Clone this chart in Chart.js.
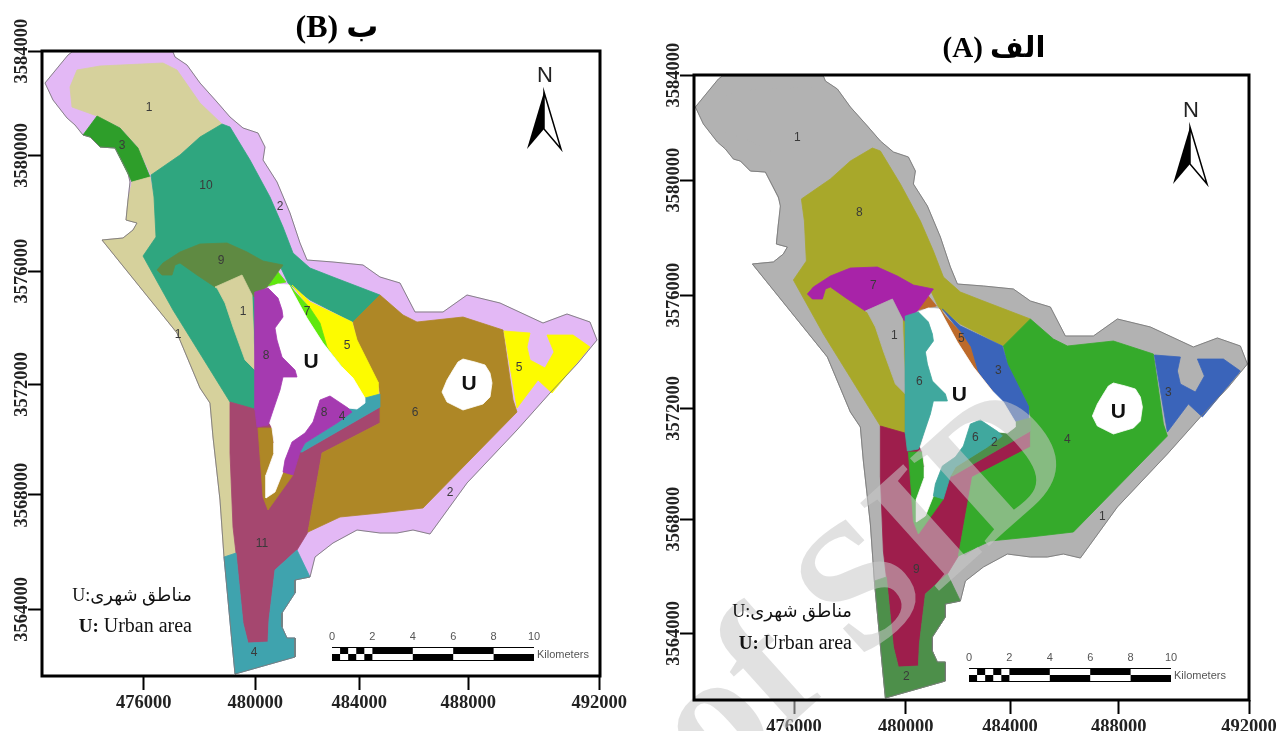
<!DOCTYPE html>
<html>
<head>
<meta charset="utf-8">
<title>Land units map</title>
<script src="https://cdn.jsdelivr.net/npm/chart.js@4/dist/chart.umd.min.js"></script>
<style>
  html, body { margin: 0; padding: 0; background: #fff; }
  canvas { position: absolute; top: 0; }
</style>
</head>
<body>
<canvas id="panelB" width="640" height="731" style="left:0"></canvas>
<canvas id="panelA" width="636" height="731" style="left:650px"></canvas>
<script>
// map polygons, [easting, northing] in metres
const outline = [[472420,3582852],[473248,3583860],[473392,3583968],[477028,3583968],[477100,3583788],[477532,3583500],[478000,3582852],[478612,3582168],[479080,3581628],[479548,3581232],[480088,3581052],[480340,3580548],[480268,3580080],[480772,3579288],[481240,3578172],[481600,3577092],[481852,3576480],[482788,3576408],[483868,3576300],[484480,3575868],[485200,3575652],[485740,3574608],[486748,3574608],[487612,3575220],[488800,3574932],[490348,3574212],[491212,3574536],[492040,3574248],[492292,3573600],[491608,3572772],[490600,3571692],[489412,3570360],[487612,3568452],[486280,3566616],[485668,3566760],[485092,3566652],[484480,3566652],[483652,3566760],[482788,3566292],[482140,3565788],[481960,3565068],[481420,3564960],[481420,3564492],[480952,3563772],[480952,3563268],[481132,3562872],[481420,3562872],[481420,3562188],[479260,3561576],[479152,3562692],[478864,3565788],[478720,3567840],[478468,3570108],[478360,3571332],[478000,3571872],[477172,3573852],[474472,3577200],[475228,3577272],[475588,3577560],[475732,3577812],[475336,3577920],[475408,3578640],[475480,3579288],[475408,3579612],[474940,3580512],[474400,3580548],[474040,3580908],[473788,3580980],[473500,3581340],[473212,3581592],[472708,3582240]];
const northBlock = [[473572,3583320],[474400,3583464],[476668,3583572],[477172,3583320],[478000,3582132],[478792,3581376],[478000,3580908],[477280,3580260],[476236,3579540],[475768,3580548],[475120,3581268],[474292,3581664],[473392,3581988],[473320,3582708]];
const northBand = [[474292,3581664],[475120,3581232],[475768,3580512],[476200,3579468],[475552,3579288],[475300,3579792],[474940,3580512],[474400,3580548],[474040,3580908],[473788,3580980]];
const westStrip = [[475552,3579288],[476200,3579468],[476344,3578748],[476416,3577308],[475948,3576624],[477028,3574680],[478144,3572880],[479080,3571440],[479080,3569532],[479188,3566868],[479296,3565932],[478864,3565788],[478720,3567840],[478468,3570108],[478360,3571332],[478000,3571872],[477172,3573852],[474472,3577200],[475228,3577272],[475588,3577560],[475732,3577812],[475336,3577920],[475408,3578640]];
const upland = [[478792,3581376],[479080,3581268],[479800,3580080],[480520,3578748],[480988,3577668],[481348,3576732],[481960,3576192],[482788,3575868],[484480,3575220],[483508,3574248],[481960,3575040],[481168,3575652],[480880,3576264],[480016,3575040],[480016,3571080],[479080,3571368],[478144,3572880],[477028,3574680],[475948,3576624],[476416,3577308],[476344,3578748],[476236,3579540],[477280,3580260],[478000,3580908]];
const southFan = [[479080,3571368],[480088,3571080],[481240,3569640],[481672,3569568],[484480,3571188],[484480,3570612],[482392,3569532],[481888,3566688],[481492,3566040],[480700,3565320],[480484,3563520],[480448,3562728],[479728,3562692],[479548,3563412],[479296,3565932],[479188,3566868],[479080,3569532]];
const southTail = [[478864,3565788],[479296,3565932],[479548,3563412],[479728,3562692],[480448,3562728],[480484,3563520],[480700,3565320],[481492,3566040],[481960,3565068],[481420,3564960],[481420,3564492],[480952,3563772],[480952,3563268],[481132,3562872],[481420,3562872],[481420,3562188],[479260,3561576],[479152,3562692]];
const plain = [[483508,3574248],[484480,3575220],[485308,3574500],[485812,3574248],[487468,3574428],[488908,3573960],[489268,3571440],[489412,3571008],[486028,3567552],[484480,3567372],[483040,3567228],[481888,3566688],[482392,3569532],[484480,3570612],[484480,3571692],[484408,3572088],[483652,3573600]];
const eastWedge = [[488944,3573924],[489880,3573852],[489772,3573348],[489880,3572880],[490420,3572592],[490744,3573168],[490492,3573780],[491428,3573780],[492040,3573348],[490672,3571692],[490168,3572160],[489412,3571152]];
const midWedge = [[481312,3575580],[481960,3574968],[483472,3574248],[483652,3573600],[484408,3572088],[484408,3571620],[483940,3571512],[483472,3572268],[482968,3572772],[482572,3573348],[482320,3574212],[481960,3574752]];
const tealStrip = [[484480,3571656],[483940,3571512],[483940,3571332],[483652,3571116],[483220,3571152],[482932,3570612],[481780,3569892],[481600,3569568],[481672,3569568],[484480,3571188]];
const thinStrip = [[481204,3575616],[481420,3575328],[481960,3574752],[482320,3574212],[482572,3573348],[482968,3572700],[483112,3572628],[482428,3573492],[481852,3574392]];
const topTriangle = [[480412,3575544],[480808,3576048],[481096,3575688]];
const innerStrip = [[480088,3570432],[480592,3570432],[480664,3569532],[480376,3568740],[480376,3567912],[480700,3568128],[480988,3568848],[481348,3568740],[480448,3567480],[480268,3567948]];
const ridge = [[476452,3576120],[476668,3576372],[477280,3576768],[478000,3577056],[478972,3577092],[479692,3576768],[480268,3576444],[480988,3576300],[480412,3575508],[479944,3575148],[479728,3575508],[479512,3575940],[478540,3575508],[477892,3575940],[477280,3576372],[477100,3576300],[476992,3575940],[476632,3575940]];
const innerBlock = [[478540,3575508],[479512,3575940],[479872,3575220],[479980,3572520],[479620,3572880],[479188,3574068],[478900,3574932],[478612,3575472]];
const urbanMain = [[480448,3575472],[480808,3575112],[480952,3574680],[480988,3574428],[480700,3574032],[480772,3573600],[480952,3572988],[481420,3572520],[481492,3572268],[480988,3572268],[480880,3571800],[480520,3570612],[480592,3570432],[480664,3569892],[480664,3569532],[480376,3568740],[480376,3567912],[480700,3568128],[480988,3568848],[481060,3569280],[481312,3569928],[481780,3570252],[482068,3570648],[482320,3571440],[482680,3571584],[483328,3571152],[483652,3571116],[483940,3571332],[483940,3571512],[483508,3572232],[483112,3572628],[482428,3573492],[481852,3574392],[481204,3575580],[480808,3575616]];
const westSlope = [[480448,3575472],[479980,3575328],[479980,3571080],[480052,3570468],[480448,3570540],[480880,3571800],[480988,3572268],[481492,3572268],[481420,3572520],[480952,3572988],[480772,3573600],[480700,3574032],[480988,3574428],[480952,3574680],[480808,3575112]];
const eastSlope = [[482068,3570648],[482320,3571440],[482680,3571584],[483328,3571152],[483472,3571008],[482932,3570612],[481780,3569892],[481600,3569568],[481348,3568740],[480988,3568848],[481060,3569280],[481312,3569928],[481780,3570252]];
const urbanEast = [[487468,3572916],[487900,3572808],[488260,3572700],[488440,3572412],[488512,3572052],[488440,3571548],[488188,3571296],[487828,3571188],[487468,3571080],[487108,3571260],[486892,3571368],[486712,3571728],[486892,3572160],[487108,3572520],[487288,3572808]];

// paint order, bottom first
const regions = [outline, northBlock, northBand, westStrip, upland, southFan, southTail, plain, eastWedge, midWedge, tealStrip, thinStrip, topTriangle, innerStrip, ridge, innerBlock, urbanMain, westSlope, eastSlope, urbanEast];

const colorsB = ['#e3b8f5','#d6d19c','#2e9e2a','#d6d19c','#2fa67f','#a5476f','#3fa3ae','#ae8726','#fdfb00','#fdfb00','#3fa3ae','#5fe80d','#5fe80d','#ae8726','#5f8a42','#d6d19c','#ffffff','#a53ab0','#a53ab0','#ffffff'];
const colorsA = ['#b2b2b2','#b2b2b2','#b2b2b2','#b2b2b2','#a8a82a','#9e1e4c','#4d8f4a','#35aa2b','#3a64ba','#3a64ba','#4d8f4a','#bd6a2a','#bd6a2a','#35aa2b','#a823a8','#b2b2b2','#ffffff','#40a89e','#40a89e','#ffffff'];

const unitTextB = ['1','3','10','2','9','1','1','8','7','5','U','8','4','6','U','5','2','11','4'];
const unitEastB = [476164,475192,478216,480880,478756,479548,477208,480376,481852,483292,481996,482464,483112,485740,487684,489484,487000,480232,479944];
const unitNorthB = [3581952,3580584,3579144,3578388,3576444,3574608,3573780,3573024,3574608,3573384,3572808,3570972,3570828,3570972,3572016,3572592,3568092,3566256,3562332];

const unitTextA = ['1','8','7','1','6','5','3','U','U','4','3','6','2','9','1','2'];
const unitEastA = [476092,478324,478828,479584,480484,481996,483328,481924,487648,485812,489448,482500,483184,480376,487072,480016];
const unitNorthA = [3581736,3579036,3576408,3574608,3572952,3574500,3573348,3572484,3571872,3570864,3572556,3570936,3570756,3566184,3568092,3562332];

const xTickLabels = ['476000','480000','484000','488000','492000'];
const yTickLabels = ['3584000','3580000','3576000','3572000','3568000','3564000'];
// the printed grid is not evenly spaced, these are where the marks sit
const xTicksB = [475973,479991,483735,487659,492375];
const xTicksA = [475970,479991,483746,487659,492350];
const yTicksB = [3584004,3580249,3576084,3572005,3568020,3563905];
const yTicksA = [3584004,3580224,3576084,3572005,3568020,3563905];

const scaleKm = [0,2,4,6,8,10];

const panels = [
  {
    id: 'panelB', colors: colorsB, unitText: unitTextB, unitEast: unitEastB, unitNorth: unitNorthB,
    xTicks: xTicksB, yTicks: yTicksB, xMin: 472312, xMax: 492400, yMin: 3561504, yMax: 3584004,
    axisW: 42, axisH: 55, top: 51, right: 40,
    title: 'ب (B)', titleX: 337, titleY: 29, titleSize: 32,
    northX: 544, northY: 92, barX: 332, barY: 647,
    legendRight: 192, legendY1: 596, legendY2: 627, watermark: false
  },
  {
    id: 'panelA', colors: colorsA, unitText: unitTextA, unitEast: unitEastA, unitNorth: unitNorthA,
    xTicks: xTicksA, yTicks: yTicksA, xMin: 472370, xMax: 492350, yMin: 3561504, yMax: 3584004,
    axisW: 44, axisH: 31, top: 75, right: 37,
    title: 'الف (A)', titleX: 344, titleY: 50, titleSize: 29,
    northX: 540, northY: 127, barX: 319, barY: 668,
    legendRight: 202, legendY1: 612, legendY2: 644, watermark: true
  }
];

function furniture(p) {
  return {
    id: 'furniture',
    afterDatasetsDraw(chart) {
      const ctx = chart.ctx, area = chart.chartArea, sx = chart.scales.x, sy = chart.scales.y;
      ctx.save();

      // repository stamp across panel A, under the labels
      if (p.watermark) {
        ctx.save();
        ctx.translate(218, 592);
        ctx.rotate(-42 * Math.PI / 180);
        ctx.textAlign = 'center';
        ctx.textBaseline = 'middle';
        ctx.fillStyle = 'rgba(200,200,200,0.55)';
        ctx.font = 'bold 180px "Liberation Serif"';
        ctx.fillText('of SID', 0, 0);
        ctx.restore();
      }

      // region numbers
      ctx.textAlign = 'center';
      ctx.textBaseline = 'middle';
      p.unitText.forEach((t, i) => {
        const big = t === 'U';
        ctx.font = big ? 'bold 21px "Liberation Sans"' : '12px "Liberation Sans"';
        ctx.fillStyle = big ? '#111' : '#3a3a3a';
        ctx.fillText(t, sx.getPixelForValue(p.unitEast[i]), sy.getPixelForValue(p.unitNorth[i]));
      });

      // frame
      ctx.strokeStyle = '#000';
      ctx.lineWidth = 3;
      ctx.strokeRect(area.left, area.top, area.right - area.left, area.bottom - area.top);

      // title
      ctx.fillStyle = '#000';
      ctx.direction = 'rtl';
      ctx.font = 'bold ' + p.titleSize + 'px "Liberation Serif","DejaVu Sans"';
      ctx.fillText(p.title, p.titleX, p.titleY);

      // legend note
      ctx.textAlign = 'right';
      ctx.font = '18px "Liberation Serif","DejaVu Sans"';
      ctx.fillStyle = '#111';
      ctx.fillText('مناطق شهری:U', p.legendRight, p.legendY1);
      ctx.direction = 'ltr';
      ctx.font = '20px "Liberation Serif"';
      ctx.fillText('Urban area', p.legendRight, p.legendY2);
      const w = ctx.measureText('Urban area').width;
      ctx.font = 'bold 19px "Liberation Serif"';
      ctx.fillText('U:', p.legendRight - w - 5, p.legendY2);

      // north arrow
      const nx = p.northX, ny = p.northY;
      ctx.textAlign = 'center';
      ctx.fillStyle = '#222';
      ctx.font = '22px "Liberation Sans"';
      ctx.fillText('N', nx + 1, ny - 16);
      ctx.fillStyle = '#000';
      ctx.beginPath();
      ctx.moveTo(nx, ny); ctx.lineTo(nx - 17, ny + 57); ctx.lineTo(nx, ny + 37); ctx.closePath();
      ctx.fill();
      ctx.lineWidth = 1.5;
      ctx.beginPath();
      ctx.moveTo(nx, ny); ctx.lineTo(nx + 17, ny + 57); ctx.lineTo(nx, ny + 37); ctx.closePath();
      ctx.stroke();

      // scale bar
      const kmW = 20.2, rowH = 7, bx = p.barX, by = p.barY;
      ctx.fillStyle = '#000';
      ctx.fillRect(bx, by, kmW * 10, rowH * 2);
      ctx.fillStyle = '#fff';
      for (let i = 0; i < 5; i++) {
        const cellW = kmW * 2 / 5;
        ctx.fillRect(bx + i * cellW, i % 2 ? by + rowH : by + 1, cellW, rowH - 1);
      }
      for (let i = 1; i < 5; i++) {
        ctx.fillRect(bx + i * 2 * kmW, i % 2 ? by + rowH : by + 1, kmW * 2, rowH - 1);
      }
      ctx.fillStyle = '#555';
      ctx.font = '11px "Liberation Sans"';
      scaleKm.forEach(km => ctx.fillText(String(km), bx + km * kmW, by - 10));
      ctx.textAlign = 'left';
      ctx.font = '11px "Liberation Sans"';
      ctx.fillText('Kilometers', bx + 205, by + 8);

      ctx.restore();
    }
  };
}

function drawPanel(p) {
  const datasets = regions.map((r, i) => ({
    data: r.concat([r[0]]).map(v => ({ x: v[0], y: v[1] })),
    showLine: true,
    pointRadius: 0,
    tension: 0,
    fill: 'shape',
    backgroundColor: p.colors[i],
    borderColor: p.colors[i],
    borderWidth: 0.8
  }));
  // grey edge round the whole study area
  datasets.push({
    data: outline.concat([outline[0]]).map(v => ({ x: v[0], y: v[1] })),
    showLine: true,
    pointRadius: 0,
    tension: 0,
    fill: false,
    borderColor: '#7a7a7a',
    borderWidth: 0.9
  });
  // chart.js draws dataset 0 last
  datasets.reverse();

  new Chart(document.getElementById(p.id), {
    type: 'scatter',
    data: { datasets },
    options: {
      responsive: false,
      animation: false,
      devicePixelRatio: 1,
      events: [],
      layout: { padding: { top: p.top, right: p.right, left: 0, bottom: 0 } },
      plugins: { legend: { display: false }, tooltip: { enabled: false } },
      scales: {
        x: {
          type: 'linear',
          min: p.xMin,
          max: p.xMax,
          afterBuildTicks: s => { s.ticks = p.xTicks.map(v => ({ value: v })); },
          afterFit: s => { s.height = p.axisH; },
          border: { display: false },
          grid: { drawOnChartArea: false, tickLength: 14, tickWidth: 2, tickColor: '#000' },
          ticks: {
            autoSkip: false,
            maxRotation: 0,
            padding: 2,
            color: '#222',
            font: { family: 'Liberation Serif', size: 18.5, weight: 'bold' },
            callback: (v, i) => xTickLabels[i]
          }
        },
        y: {
          type: 'linear',
          min: p.yMin,
          max: p.yMax,
          afterBuildTicks: s => { s.ticks = p.yTicks.map(v => ({ value: v })); },
          afterFit: s => { s.width = p.axisW; },
          border: { display: false },
          grid: { drawOnChartArea: false, tickLength: 14, tickWidth: 2, tickColor: '#000' },
          ticks: {
            autoSkip: false,
            minRotation: 90,
            maxRotation: 90,
            crossAlign: 'center',
            padding: -27,
            color: '#222',
            font: { family: 'Liberation Serif', size: 18.5, weight: 'bold' },
            callback: (v, i) => yTickLabels[i]
          }
        }
      }
    },
    plugins: [furniture(p)]
  });
}

panels.forEach(drawPanel);
</script>
</body>
</html>
